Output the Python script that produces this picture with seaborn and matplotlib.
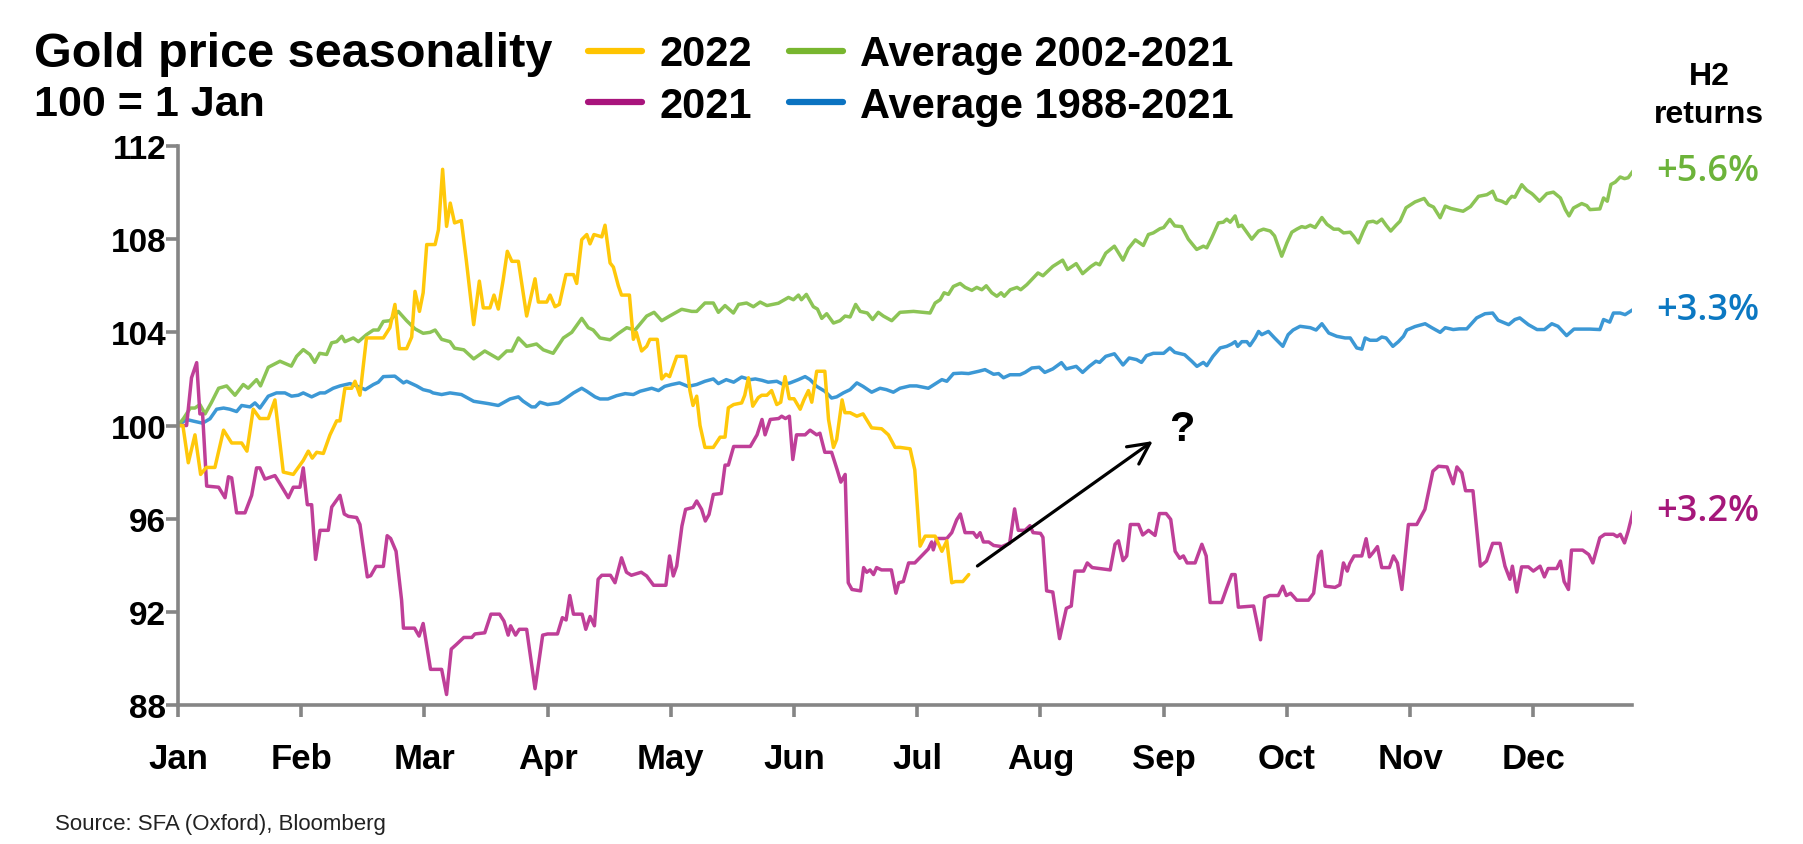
import pandas as pd
import seaborn as sns
import matplotlib.pyplot as plt
from matplotlib import font_manager
from matplotlib.lines import Line2D

# x = months since 1 Jan (0 = Jan, 11 = Dec), y = price index (100 = 1 Jan)
months = ["Jan", "Feb", "Mar", "Apr", "May", "Jun", "Jul", "Aug", "Sep", "Oct", "Nov", "Dec"]

t2022 = [0.0, 0.04, 0.084, 0.138, 0.184, 0.23, 0.30, 0.37, 0.436, 0.517, 0.56, 0.611, 0.665, 0.733, 0.787, 0.855,
         0.936, 1.017, 1.058, 1.09, 1.126, 1.18, 1.234, 1.288, 1.315, 1.355, 1.41, 1.437, 1.477, 1.53, 1.667, 1.72,
         1.761, 1.797, 1.856, 1.897, 1.924, 1.96, 1.99, 2.019, 2.087, 2.114, 2.148, 2.18, 2.21, 2.245, 2.3, 2.34,
         2.40, 2.446, 2.478, 2.532, 2.565, 2.6, 2.64, 2.673, 2.71, 2.763, 2.83, 2.898, 2.925, 2.993, 3.02, 3.06,
         3.095, 3.149, 3.21, 3.236, 3.277, 3.318, 3.344, 3.376, 3.44, 3.466, 3.507, 3.534, 3.574, 3.60, 3.664, 3.696,
         3.72, 3.763, 3.804, 3.83, 3.89, 3.926, 3.96, 3.99, 4.048, 4.12, 4.155, 4.18, 4.21, 4.237, 4.277, 4.345,
         4.4, 4.44, 4.467, 4.51, 4.575, 4.6, 4.63, 4.665, 4.71, 4.738, 4.78, 4.818, 4.86, 4.892, 4.927, 4.962,
         5.0, 5.05, 5.08, 5.117, 5.144, 5.184, 5.25, 5.28, 5.32, 5.346, 5.39, 5.413, 5.455, 5.51, 5.56, 5.63,
         5.711, 5.766, 5.82, 5.86, 5.942, 5.98, 6.023, 6.064, 6.145, 6.2, 6.24, 6.28, 6.31, 6.37, 6.418]
v2022 = [100.0, 100.0, 98.4, 99.6, 97.9, 98.2, 98.2, 99.8, 99.25, 99.25, 98.9, 100.7, 100.3, 100.3, 101.1, 98.0,
         97.9, 98.5, 98.9, 98.6, 98.85, 98.8, 99.6, 100.2, 100.2, 101.6, 101.6, 101.9, 101.3, 103.76, 103.76, 104.2,
         105.2, 103.3, 103.3, 103.8, 105.76, 104.9, 105.7, 107.77, 107.77, 108.4, 111.0, 108.55, 109.55, 108.7, 108.8, 107.1,
         104.33, 106.2, 105.05, 105.05, 105.6, 105.0, 106.27, 107.48, 107.05, 107.05, 104.7, 106.3, 105.3, 105.3, 105.6, 105.1,
         105.2, 106.48, 106.48, 106.1, 107.98, 108.2, 107.8, 108.2, 108.1, 108.6, 106.98, 106.8, 106.0, 105.6, 105.6, 103.7,
         104.0, 103.2, 103.4, 103.7, 103.7, 102.0, 102.2, 102.1, 102.97, 102.97, 101.5, 100.86, 101.26, 100.0, 99.06, 99.06,
         99.5, 99.5, 100.76, 100.9, 100.97, 101.3, 102.05, 100.83, 101.2, 101.3, 101.3, 101.5, 100.9, 101.0, 102.1, 101.15,
         101.15, 100.7, 101.1, 101.5, 101.0, 102.33, 102.33, 100.26, 99.06, 99.4, 101.1, 100.55, 100.55, 100.4, 100.5, 99.9,
         99.86, 99.6, 99.06, 99.06, 99.0, 98.1, 94.82, 95.25, 95.25, 94.6, 95.05, 93.25, 93.3, 93.3, 93.6]

t2021 = [0.0, 0.07, 0.11, 0.152, 0.178, 0.2, 0.233, 0.33, 0.382, 0.41, 0.436, 0.476, 0.544, 0.598, 0.638, 0.665,
         0.706, 0.787, 0.828, 0.896, 0.936, 0.99, 1.017, 1.05, 1.085, 1.117, 1.153, 1.22, 1.248, 1.315, 1.35, 1.383,
         1.45, 1.477, 1.537, 1.564, 1.607, 1.667, 1.698, 1.726, 1.77, 1.815, 1.83, 1.92, 1.957, 1.99, 2.05, 2.14,
         2.18, 2.218, 2.26, 2.32, 2.385, 2.41, 2.49, 2.54, 2.61, 2.646, 2.68, 2.70, 2.74, 2.77, 2.83, 2.898,
         2.96, 3.0, 3.08, 3.12, 3.15, 3.18, 3.21, 3.28, 3.31, 3.345, 3.38, 3.41, 3.44, 3.51, 3.547, 3.60,
         3.64, 3.68, 3.76, 3.804, 3.86, 3.96, 3.99, 4.02, 4.048, 4.09, 4.12, 4.18, 4.21, 4.25, 4.28, 4.31,
         4.345, 4.41, 4.44, 4.467, 4.51, 4.645, 4.70, 4.74, 4.765, 4.807, 4.875, 4.9, 4.93, 4.962, 4.99, 5.02,
         5.09, 5.13, 5.184, 5.21, 5.25, 5.305, 5.35, 5.38, 5.415, 5.44, 5.47, 5.54, 5.565, 5.59, 5.617, 5.645,
         5.67, 5.71, 5.79, 5.827, 5.85, 5.887, 5.93, 5.98, 6.035, 6.09, 6.117, 6.13, 6.158, 6.24, 6.28, 6.32,
         6.35, 6.388, 6.456, 6.483, 6.51, 6.537, 6.58, 6.62, 6.687, 6.75, 6.79, 6.82, 6.875, 6.915, 6.94, 7.0,
         7.02, 7.05, 7.1, 7.155, 7.21, 7.25, 7.28, 7.35, 7.38, 7.42, 7.49, 7.566, 7.605, 7.633, 7.67, 7.7,
         7.73, 7.796, 7.83, 7.877, 7.93, 7.965, 8.02, 8.057, 8.093, 8.13, 8.16, 8.19, 8.255, 8.31, 8.345, 8.377,
         8.47, 8.51, 8.552, 8.58, 8.606, 8.73, 8.786, 8.82, 8.86, 8.93, 8.967, 8.995, 9.03, 9.08, 9.175, 9.217,
         9.256, 9.28, 9.31, 9.391, 9.43, 9.459, 9.49, 9.51, 9.545, 9.608, 9.643, 9.67, 9.70, 9.735, 9.77, 9.832,
         9.865, 9.897, 9.933, 9.986, 10.054, 10.12, 10.185, 10.23, 10.3, 10.35, 10.38, 10.42, 10.45, 10.51, 10.57, 10.62,
         10.67, 10.73, 10.77, 10.81, 10.83, 10.866, 10.905, 10.96, 11.0, 11.055, 11.09, 11.12, 11.19, 11.22, 11.25, 11.285,
         11.31, 11.4, 11.45, 11.483, 11.54, 11.58, 11.65, 11.68, 11.706, 11.74, 11.77, 11.81]
v2021 = [100.0, 100.0, 102.05, 102.7, 100.5, 100.5, 97.4, 97.35, 96.9, 97.8, 97.75, 96.25, 96.25, 97.0, 98.18, 98.18,
         97.7, 97.85, 97.5, 96.9, 97.35, 97.35, 98.18, 96.6, 96.6, 94.25, 95.5, 95.5, 96.5, 97.0, 96.2, 96.1,
         96.05, 95.75, 93.5, 93.55, 93.95, 93.95, 95.27, 95.15, 94.6, 92.5, 91.3, 91.3, 90.96, 91.5, 89.53, 89.53,
         88.45, 90.4, 90.6, 90.9, 90.9, 91.05, 91.1, 91.9, 91.9, 91.6, 91.0, 91.4, 91.0, 91.25, 91.25, 88.7,
         91.0, 91.05, 91.05, 91.75, 91.65, 92.7, 91.9, 91.9, 91.25, 91.8, 91.4, 93.4, 93.57, 93.57, 93.25, 94.32,
         93.7, 93.57, 93.7, 93.54, 93.14, 93.14, 94.4, 93.54, 93.97, 95.68, 96.4, 96.48, 96.76, 96.4, 95.9, 96.18,
         97.04, 97.08, 98.3, 98.3, 99.1, 99.1, 99.6, 100.26, 99.6, 100.26, 100.3, 100.4, 100.3, 100.4, 98.54, 99.6,
         99.6, 99.8, 99.6, 99.67, 98.85, 98.85, 98.1, 97.57, 97.9, 93.25, 92.96, 92.9, 93.9, 93.7, 93.8, 93.6,
         93.9, 93.8, 93.8, 92.8, 93.25, 93.3, 94.1, 94.1, 94.4, 94.7, 95.0, 94.66, 95.15, 95.15, 95.4, 95.95,
         96.2, 95.4, 95.4, 95.2, 95.4, 95.0, 95.0, 94.85, 94.8, 94.95, 96.42, 95.5, 95.5, 95.7, 95.4, 95.37,
         95.2, 92.9, 92.85, 90.85, 92.15, 92.25, 93.75, 93.75, 94.1, 93.9, 93.85, 93.8, 94.9, 95.05, 94.2, 94.4,
         95.75, 95.75, 95.3, 95.5, 95.28, 96.22, 96.22, 95.97, 94.6, 94.3, 94.4, 94.1, 94.1, 94.9, 94.4, 92.4,
         92.4, 93.0, 93.6, 93.6, 92.2, 92.25, 90.8, 92.6, 92.7, 92.7, 93.1, 92.7, 92.8, 92.5, 92.5, 92.8,
         94.4, 94.6, 93.1, 93.05, 93.16, 94.1, 93.75, 94.07, 94.4, 94.4, 95.14, 94.36, 94.55, 94.8, 93.9, 93.9,
         94.4, 94.1, 92.96, 95.75, 95.75, 96.4, 98.04, 98.25, 98.22, 97.5, 98.22, 97.97, 97.2, 97.2, 93.96, 94.18,
         94.94, 94.94, 93.96, 93.4, 93.96, 92.85, 93.93, 93.93, 93.75, 93.96, 93.5, 93.86, 93.86, 94.18, 93.3, 92.96,
         94.65, 94.65, 94.46, 94.1, 95.18, 95.33, 95.33, 95.23, 95.33, 94.96, 95.47, 96.32]

t_avg02 = [0.0, 0.045, 0.1, 0.138, 0.178, 0.22, 0.27, 0.33, 0.395, 0.463, 0.53, 0.57, 0.638, 0.67, 0.733, 0.828,
           0.92, 0.963, 1.017, 1.07, 1.11, 1.15, 1.207, 1.247, 1.288, 1.33, 1.355, 1.423, 1.464, 1.53, 1.586, 1.626,
           1.667, 1.72, 1.788, 1.856, 1.924, 1.99, 2.046, 2.087, 2.14, 2.208, 2.245, 2.32, 2.4, 2.49, 2.6, 2.668,
           2.71, 2.763, 2.83, 2.91, 2.965, 3.045, 3.128, 3.196, 3.277, 3.33, 3.37, 3.425, 3.507, 3.574, 3.642, 3.71,
           3.804, 3.864, 3.926, 3.99, 4.088, 4.17, 4.21, 4.277, 4.345, 4.386, 4.44, 4.508, 4.55, 4.615, 4.67, 4.725,
           4.78, 4.873, 4.955, 4.995, 5.036, 5.06, 5.1, 5.157, 5.19, 5.225, 5.265, 5.32, 5.373, 5.414, 5.455, 5.5,
           5.537, 5.595, 5.638, 5.684, 5.725, 5.793, 5.86, 5.97, 6.05, 6.104, 6.145, 6.186, 6.218, 6.253, 6.293, 6.348,
           6.389, 6.443, 6.483, 6.524, 6.56, 6.605, 6.646, 6.68, 6.706, 6.755, 6.81, 6.84, 6.89, 6.94, 6.98, 7.02,
           7.1, 7.18, 7.22, 7.29, 7.342, 7.41, 7.45, 7.48, 7.53, 7.6, 7.67, 7.714, 7.77, 7.835, 7.876, 7.916,
           7.97, 8.0, 8.05, 8.09, 8.146, 8.2, 8.268, 8.322, 8.35, 8.39, 8.444, 8.484, 8.512, 8.54, 8.58, 8.607,
           8.634, 8.675, 8.715, 8.77, 8.81, 8.865, 8.9, 8.958, 9.0, 9.04, 9.08, 9.12, 9.15, 9.19, 9.229, 9.284,
           9.325, 9.38, 9.42, 9.46, 9.514, 9.54, 9.58, 9.62, 9.655, 9.7, 9.73, 9.77, 9.805, 9.843, 9.886, 9.918,
           9.967, 10.04, 10.114, 10.15, 10.19, 10.244, 10.285, 10.33, 10.37, 10.43, 10.49, 10.555, 10.623, 10.67, 10.7, 10.744,
           10.78, 10.8, 10.826, 10.85, 10.906, 10.947, 10.987, 11.0, 11.05, 11.11, 11.163, 11.22, 11.26, 11.29, 11.326, 11.393,
           11.434, 11.46, 11.54, 11.57, 11.6, 11.63, 11.665, 11.705, 11.74, 11.77, 11.81]
v_avg02 = [100.0, 100.3, 100.75, 100.75, 100.9, 100.5, 100.97, 101.6, 101.7, 101.3, 101.76, 101.6, 101.97, 101.7, 102.5, 102.76,
           102.55, 102.97, 103.26, 103.05, 102.71, 103.1, 103.05, 103.55, 103.6, 103.83, 103.6, 103.76, 103.6, 103.9, 104.1, 104.1,
           104.47, 104.5, 104.9, 104.5, 104.15, 103.96, 104.0, 104.1, 103.7, 103.6, 103.32, 103.25, 102.86, 103.2, 102.86, 103.2,
           103.2, 103.76, 103.4, 103.5, 103.25, 103.1, 103.76, 104.0, 104.6, 104.2, 104.1, 103.76, 103.68, 103.95, 104.2, 104.1,
           104.7, 104.86, 104.5, 104.7, 104.99, 104.9, 104.9, 105.26, 105.26, 104.86, 105.15, 104.83, 105.2, 105.26, 105.1, 105.3,
           105.15, 105.25, 105.5, 105.4, 105.6, 105.4, 105.63, 105.1, 105.0, 104.6, 104.8, 104.4, 104.5, 104.7, 104.66, 105.2,
           104.9, 104.83, 104.55, 104.86, 104.7, 104.5, 104.86, 104.9, 104.86, 104.83, 105.26, 105.4, 105.7, 105.63, 105.97, 106.1,
           105.93, 105.8, 105.93, 105.83, 106.0, 105.7, 105.55, 105.7, 105.55, 105.83, 105.93, 105.83, 106.05, 106.33, 106.55, 106.43,
           106.83, 107.1, 106.7, 106.95, 106.52, 106.83, 106.97, 106.9, 107.4, 107.7, 107.1, 107.6, 107.97, 107.73, 108.2, 108.27,
           108.45, 108.5, 108.85, 108.57, 108.54, 108.0, 107.56, 107.7, 107.63, 108.06, 108.7, 108.73, 108.86, 108.73, 109.0, 108.54,
           108.6, 108.3, 108.0, 108.35, 108.43, 108.35, 108.14, 107.27, 107.84, 108.3, 108.43, 108.54, 108.5, 108.6, 108.5, 108.93,
           108.64, 108.43, 108.43, 108.27, 108.3, 108.14, 107.84, 108.35, 108.73, 108.77, 108.7, 108.86, 108.6, 108.35, 108.6, 108.77,
           109.35, 109.6, 109.75, 109.48, 109.38, 108.92, 109.42, 109.32, 109.27, 109.2, 109.4, 109.84, 109.91, 110.06, 109.7, 109.63,
           109.53, 109.7, 109.84, 109.8, 110.34, 110.1, 109.96, 109.9, 109.63, 109.96, 110.02, 109.77, 109.27, 109.0, 109.34, 109.53,
           109.44, 109.27, 109.3, 109.77, 109.63, 110.35, 110.45, 110.67, 110.6, 110.64, 110.93]

t_avg88 = [0.0, 0.07, 0.124, 0.2, 0.26, 0.314, 0.37, 0.42, 0.476, 0.517, 0.585, 0.625, 0.665, 0.733, 0.8, 0.868,
           0.922, 0.977, 1.017, 1.085, 1.153, 1.193, 1.26, 1.315, 1.396, 1.45, 1.52, 1.586, 1.626, 1.667, 1.76, 1.83,
           1.856, 1.937, 1.99, 2.046, 2.07, 2.14, 2.208, 2.3, 2.4, 2.45, 2.52, 2.6, 2.695, 2.763, 2.8, 2.87,
           2.9, 2.938, 3.0, 3.09, 3.14, 3.21, 3.277, 3.318, 3.385, 3.425, 3.49, 3.56, 3.63, 3.696, 3.75, 3.8,
           3.845, 3.9, 3.95, 4.007, 4.07, 4.14, 4.21, 4.277, 4.345, 4.386, 4.45, 4.51, 4.575, 4.645, 4.686, 4.74,
           4.79, 4.86, 4.913, 4.968, 5.035, 5.09, 5.13, 5.184, 5.25, 5.305, 5.346, 5.4, 5.455, 5.51, 5.56, 5.63,
           5.698, 5.75, 5.806, 5.86, 5.94, 5.995, 6.09, 6.158, 6.2, 6.24, 6.294, 6.36, 6.416, 6.5, 6.55, 6.62,
           6.66, 6.7, 6.753, 6.834, 6.875, 6.93, 6.99, 7.035, 7.1, 7.17, 7.21, 7.29, 7.342, 7.396, 7.45, 7.48,
           7.53, 7.6, 7.67, 7.72, 7.78, 7.82, 7.86, 7.916, 8.0, 8.05, 8.09, 8.17, 8.228, 8.27, 8.322, 8.35,
           8.4, 8.458, 8.512, 8.552, 8.58, 8.6, 8.634, 8.675, 8.7, 8.742, 8.77, 8.796, 8.85, 8.9, 8.967, 9.01,
           9.05, 9.107, 9.19, 9.237, 9.284, 9.34, 9.405, 9.472, 9.514, 9.567, 9.608, 9.635, 9.675, 9.73, 9.77, 9.805,
           9.86, 9.905, 9.946, 9.973, 10.04, 10.122, 10.176, 10.244, 10.285, 10.35, 10.4, 10.46, 10.54, 10.608, 10.67, 10.714,
           10.8, 10.85, 10.89, 10.96, 11.03, 11.09, 11.15, 11.2, 11.27, 11.33, 11.46, 11.54, 11.57, 11.62, 11.65, 11.705,
           11.745, 11.81]
v_avg88 = [100.0, 100.26, 100.19, 100.1, 100.29, 100.7, 100.75, 100.7, 100.6, 100.86, 100.8, 100.97, 100.75, 101.26, 101.4, 101.4,
           101.26, 101.3, 101.4, 101.23, 101.4, 101.4, 101.6, 101.7, 101.8, 101.7, 101.54, 101.76, 101.86, 102.1, 102.12, 101.83,
           101.9, 101.7, 101.54, 101.47, 101.4, 101.33, 101.4, 101.33, 101.04, 101.0, 100.94, 100.86, 101.14, 101.23, 101.05, 100.8,
           100.8, 101.0, 100.9, 100.97, 101.14, 101.4, 101.6, 101.47, 101.23, 101.14, 101.14, 101.28, 101.37, 101.33, 101.47, 101.54,
           101.6, 101.5, 101.68, 101.76, 101.83, 101.68, 101.76, 101.9, 102.0, 101.8, 101.97, 101.86, 102.08, 101.97, 102.0, 101.94,
           101.86, 101.9, 101.76, 101.83, 101.97, 102.1, 101.97, 101.68, 101.47, 101.18, 101.23, 101.4, 101.54, 101.83, 101.68, 101.43,
           101.6, 101.54, 101.43, 101.6, 101.7, 101.7, 101.6, 101.83, 101.97, 101.9, 102.23, 102.25, 102.23, 102.33, 102.4, 102.2,
           102.23, 102.05, 102.18, 102.18, 102.28, 102.47, 102.5, 102.28, 102.43, 102.7, 102.43, 102.54, 102.28, 102.54, 102.76, 102.71,
           102.97, 103.08, 102.6, 102.9, 102.83, 102.71, 103.0, 103.1, 103.1, 103.33, 103.14, 103.04, 102.76, 102.54, 102.71, 102.57,
           102.97, 103.33, 103.4, 103.5, 103.6, 103.4, 103.6, 103.6, 103.43, 103.76, 104.04, 103.9, 104.04, 103.76, 103.4, 103.9,
           104.1, 104.26, 104.2, 104.1, 104.37, 103.97, 103.83, 103.76, 103.76, 103.33, 103.28, 103.76, 103.66, 103.66, 103.8, 103.76,
           103.4, 103.6, 103.83, 104.1, 104.25, 104.37, 104.2, 104.0, 104.2, 104.12, 104.15, 104.15, 104.62, 104.8, 104.83, 104.52,
           104.33, 104.55, 104.62, 104.33, 104.12, 104.12, 104.37, 104.26, 103.86, 104.14, 104.14, 104.12, 104.55, 104.44, 104.83, 104.83,
           104.76, 104.98]

h2_returns = ["+5.6%", "+3.3%", "+3.2%"]

line_colors = {"2022": "#FFC80A", "2021": "#BF3F98", "avg02": "#8CC456", "avg88": "#3C98D5"}
key_colors = {"2022": "#FFC400", "2021": "#A8147C", "avg02": "#78B62F", "avg88": "#0B73C1"}
grey = "#858585"

sns.set_style("ticks")
names = {f.name for f in font_manager.fontManager.ttflist}
narrow = "Liberation Sans Narrow" if "Liberation Sans Narrow" in names else "Liberation Sans"
plt.rcParams["font.family"] = [narrow, "DejaVu Sans"]
plt.rcParams["text.color"] = "black"

fig = plt.figure(figsize=(18.03, 8.45), dpi=100)
ax = fig.add_axes([0.0987, 0.1645, 0.8064, 0.6615])

series = [("avg88", t_avg88, v_avg88), ("avg02", t_avg02, v_avg02), ("2021", t2021, v2021), ("2022", t2022, v2022)]
for key, t, v in series:
    df = pd.DataFrame({"month": t, "index": v})
    sns.lineplot(data=df, x="month", y="index", ax=ax, color=line_colors[key], lw=2.5,
                 estimator=None, sort=False, legend=False)

ax.set_xlim(0, 11.8)
ax.set_ylim(88, 112)
ax.set_xticks(range(12))
ax.set_xticklabels(months, fontsize=25, fontweight="bold")
ax.set_yticks(range(88, 113, 4))
ax.set_yticklabels([str(y) for y in range(88, 113, 4)], fontsize=24, fontweight="bold")
ax.set_xlabel("")
ax.set_ylabel("")
sns.despine(ax=ax)
for s in ["left", "bottom"]:
    ax.spines[s].set_color(grey)
    ax.spines[s].set_linewidth(2.6)
ax.tick_params(axis="both", colors=grey, length=8.5, width=2.6, labelcolor="black")
ax.tick_params(axis="x", pad=18)
ax.tick_params(axis="y", pad=0)

# end-of-year H2 return labels
ends = [(v_avg02[-1], h2_returns[0], "#6CB33A"), (v_avg88[-1], h2_returns[1], "#0B78C2"),
        (v2021[-1], h2_returns[2], "#A5177A")]
for val, txt, col in ends:
    ax.text(12.0, val, txt, color=col, fontsize=26, fontweight="semibold", family=["Open Sans", "DejaVu Sans"],
            va="center", ha="left", clip_on=False)

# arrow with question mark
ax.annotate("", xy=(7.93, 99.4), xytext=(6.47, 93.9),
            arrowprops=dict(arrowstyle="->", lw=2.3, color="black", mutation_scale=38))
ax.text(8.15, 99.83, "?", fontsize=30, fontweight="bold", ha="center", va="center")

# titles
fig.text(0.0189, 0.936, "Gold price seasonality", fontsize=35, fontweight="bold", va="center", ha="left")
fig.text(0.0189, 0.876, "100 = 1 Jan", fontsize=31, fontweight="bold", va="center", ha="left")
fig.text(0.948, 0.909, "H2", fontsize=23, fontweight="bold", va="center", ha="center")
fig.text(0.948, 0.864, "returns", fontsize=23, fontweight="bold", va="center", ha="center")
fig.text(0.0305, 0.0237, "Source: SFA (Oxford), Bloomberg", fontsize=16, va="center", ha="left", color="#222222")

# legend
handles = [Line2D([], [], color=key_colors[k], lw=4.5, solid_capstyle="round") for k in ["2022", "2021", "avg02", "avg88"]]
labels = ["2022", "2021", "Average 2002-2021", "Average 1988-2021"]
leg = fig.legend(handles, labels, ncol=2, loc="center left", bbox_to_anchor=(0.326, 0.904),
                 frameon=False, borderpad=0, borderaxespad=0, handlelength=1.3, handletextpad=0.41,
                 columnspacing=0.9, labelspacing=0.27, prop={"size": 30, "weight": "bold"})

plt.savefig("out.png", dpi=100)
